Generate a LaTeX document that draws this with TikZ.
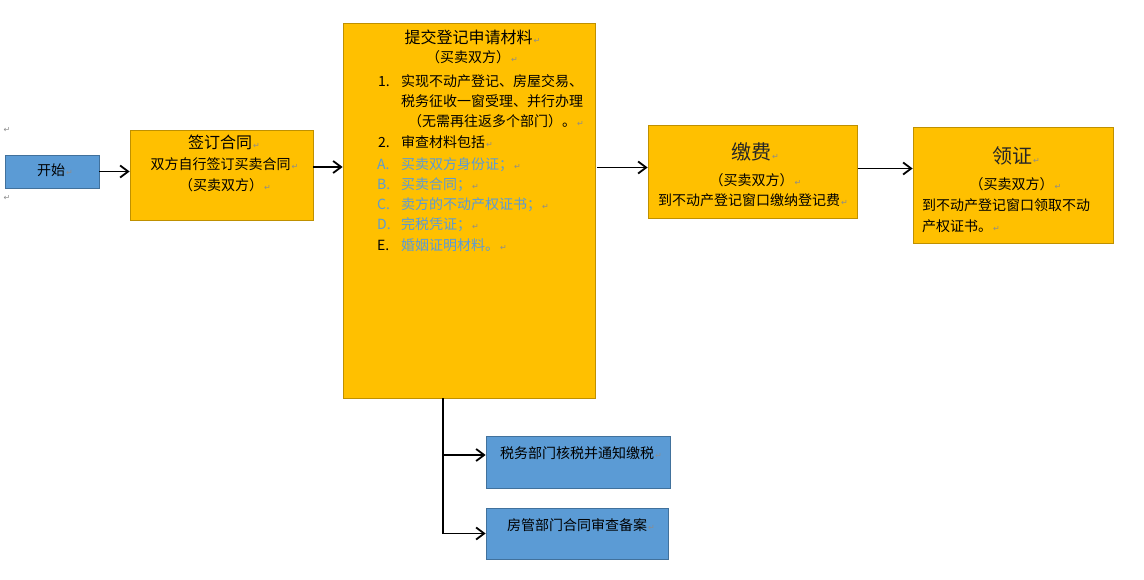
\documentclass[tikz,border=0pt]{standalone}
\usepackage{fontspec}
\setmainfont{Noto Sans CJK SC}
\newfontfamily\markfont{DejaVu Sans}
\usetikzlibrary{arrows.meta,calc}
\definecolor{boxfill}{HTML}{FFC000}
\definecolor{boxedge}{HTML}{BF9000}
\definecolor{bluefill}{HTML}{5B9BD5}
\definecolor{blueedge}{HTML}{41719C}
\definecolor{listblue}{HTML}{5B9BD5}
\definecolor{markgray}{HTML}{8C8C8C}
\def\pmk{\rlap{\kern1pt{\markfont\fontsize{8}{8}\selectfont\color{markgray}↵}}}
\tikzset{
	orangebox/.style={draw=boxedge, fill=boxfill, line width=0.8pt, inner sep=0pt},
	bluebox/.style={draw=blueedge, fill=bluefill, line width=0.8pt, inner sep=0pt},
	body/.style={inner sep=0pt, font=\fontsize{14}{14}\selectfont},
	head/.style={inner sep=0pt, font=\fontsize{16}{16}\selectfont},
	bighead/.style={inner sep=0pt, font=\fontsize{20}{20}\selectfont, text=black!85},
	pm/.style={inner sep=0pt, font=\markfont\fontsize{8}{8}\selectfont, text=markgray},
	flow/.style={-{Straight Barb[length=8pt,width=12pt]}, line width=1.8pt},
}

\begin{document}
\begin{tikzpicture}[x=1pt, y=-1pt]
		%%%%% START %%%%%
		\fill[white] (0, 0) rectangle (1144, 580);
		\useasboundingbox (0, 0) rectangle (1144, 580);
		
		\node[pm] (mark1) at (7, 130) {↵};
		\node[pm] (mark2) at (7, 198) {↵};
		
		% boxes
		\node[bluebox, minimum width=94, minimum height=33] (start) at (52, 171.5) {};
		\node[orangebox, minimum width=183, minimum height=90] (sign) at (221.5, 175) {};
		\node[orangebox, minimum width=252, minimum height=375] (apply) at (469, 210.5) {};
		\node[orangebox, minimum width=209, minimum height=93] (pay) at (752.5, 171.5) {};
		\node[orangebox, minimum width=200, minimum height=116] (cert) at (1013, 185) {};
		\node[bluebox, minimum width=184, minimum height=52] (tax) at (578, 462) {};
		\node[bluebox, minimum width=182, minimum height=51] (house) at (577, 533.5) {};
		
		% texts
		\node[body, anchor=base] (startlbl) at (51, 176) {开始\pmk};
		
		\node[head, anchor=base] (signhead) at (220, 149) {签订合同\pmk};
		\node[body, anchor=base] (signl1) at (220.5, 170) {双方自行签订买卖合同\pmk};
		\node[body, anchor=base] (signl2) at (221, 191) {（买卖双方）\pmk};
		
		\node[head, anchor=base] (applyhead) at (468.5, 44) {提交登记申请材料\pmk};
		\node[body, anchor=base] (applyl0) at (468, 63) {（买卖双方）\pmk};
		\node[body, anchor=base west] (num1) at (378, 87) {1.};
		\node[body, anchor=base west] (item1a) at (401, 87) {实现不动产登记、房屋交易、};
		\node[body, anchor=base west] (item1b) at (401, 107) {税务征收一窗受理、并行办理};
		\node[body, anchor=base] (item1c) at (492, 127) {（无需再往返多个部门）。\pmk};
		\node[body, anchor=base west] (num2) at (378, 148) {2.};
		\node[body, anchor=base west] (item2) at (401, 148) {审查材料包括\pmk};
		\node[body, anchor=base west, text=listblue] (numA) at (377, 170) {A.};
		\node[body, anchor=base west, text=listblue] (itemA) at (401, 170) {买卖双方身份证；\pmk};
		\node[body, anchor=base west, text=listblue] (numB) at (377, 190) {B.};
		\node[body, anchor=base west, text=listblue] (itemB) at (401, 190) {买卖合同；\pmk};
		\node[body, anchor=base west, text=listblue] (numC) at (377, 210) {C.};
		\node[body, anchor=base west, text=listblue] (itemC) at (401, 210) {卖方的不动产权证书；\pmk};
		\node[body, anchor=base west, text=listblue] (numD) at (377, 230) {D.};
		\node[body, anchor=base west, text=listblue] (itemD) at (401, 230) {完税凭证；\pmk};
		\node[body, anchor=base west] (numE) at (377, 251) {E.};
		\node[body, anchor=base west, text=listblue] (itemE) at (401, 251) {婚姻证明材料。\pmk};
		
		\node[bighead, anchor=base] (payhead) at (751, 160) {缴费\pmk};
		\node[body, anchor=base] (payl1) at (751.5, 186) {（买卖双方）\pmk};
		\node[body, anchor=base] (payl2) at (749, 206) {到不动产登记窗口缴纳登记费\pmk};
		
		\node[bighead, anchor=base] (certhead) at (1012, 164) {领证\pmk};
		\node[body, anchor=base] (certl1) at (1011.5, 190) {（买卖双方）\pmk};
		\node[body, anchor=base west] (certl2) at (922, 211) {到不动产登记窗口领取不动};
		\node[body, anchor=base west] (certl3) at (922, 232) {产权证书。\pmk};
		
		\node[body, anchor=base west] (taxlbl) at (500, 458) {税务部门核税并通知缴税\pmk};
		\node[body, anchor=base west] (houselbl) at (507, 530) {房管部门合同审查备案\pmk};
		
		% connectors
		\draw[flow] (start.east) -- (start.east -| sign.west);
		\coordinate (a1) at ([yshift=8pt]sign.east);
		\draw[flow] (a1) -- (a1 -| apply.west);
		\coordinate (a2) at ([yshift=4pt]pay.west);
		\draw[flow] ([xshift=2pt]a2 -| apply.east) -- (a2);
		\coordinate (a3) at ([yshift=3pt]pay.east);
		\draw[flow] ([xshift=1pt]a3) -- (a3 -| cert.west);
		
		\coordinate (b0) at ([xshift=-26pt]apply.south);
		\draw[flow] (b0) |- ([yshift=7pt]tax.west);
		\draw[flow] (b0) |- (house.west);
		
		%%%%% END %%%%%
\end{tikzpicture}
\end{document}
